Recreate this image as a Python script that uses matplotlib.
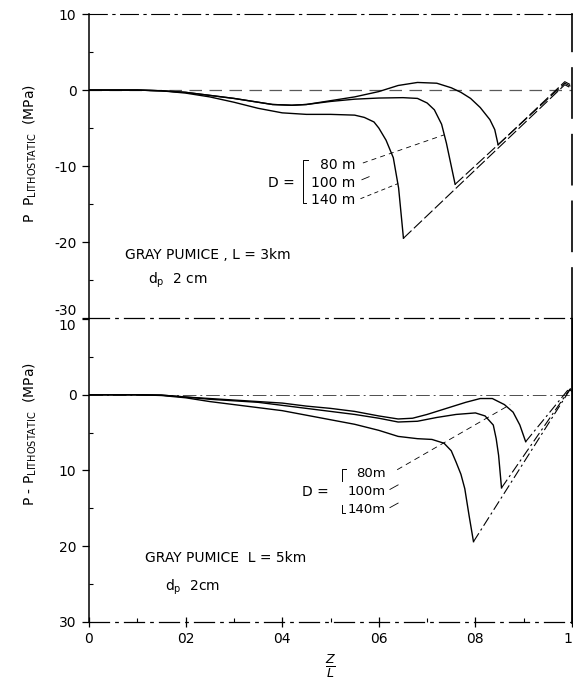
import numpy as np
import matplotlib.pyplot as plt
from matplotlib.ticker import MultipleLocator

plt.rcParams['font.family'] = ['DejaVu Sans']
plt.rcParams['mathtext.fontset'] = 'dejavusans'

### data
# upper panel: gray pumice, L = 3 km
z3_80 = [0, 0.10, 0.15, 0.20, 0.25, 0.30, 0.35, 0.38, 0.42, 0.45, 0.50, 0.55, 0.60, 0.64, 0.68,
         0.72, 0.75, 0.77, 0.79, 0.81, 0.83, 0.84, 0.847, 0.985, 1.0]
p3_80 = [0, 0, -0.1, -0.3, -0.7, -1.1, -1.6, -1.9, -2.0, -1.9, -1.4, -0.9, -0.2, 0.6, 1.0,
         0.9, 0.3, -0.3, -1.1, -2.3, -3.9, -5.2, -7.2, 1.1, 0.6]
z3_100 = [0, 0.10, 0.15, 0.20, 0.25, 0.30, 0.35, 0.38, 0.42, 0.45, 0.50, 0.55, 0.60, 0.65, 0.68,
          0.70, 0.715, 0.73, 0.74, 0.75, 0.758, 0.985, 1.0]
p3_100 = [0, 0, -0.1, -0.3, -0.7, -1.1, -1.6, -1.9, -2.0, -1.9, -1.5, -1.2, -1.05, -1.0, -1.1,
          -1.7, -2.6, -4.5, -7.0, -10.0, -12.4, 0.9, 0.4]
z3_140 = [0, 0.10, 0.15, 0.20, 0.25, 0.30, 0.35, 0.40, 0.45, 0.50, 0.55, 0.57, 0.59, 0.60,
          0.615, 0.63, 0.641, 0.651, 0.985, 1.0]
p3_140 = [0, 0, -0.1, -0.4, -0.9, -1.6, -2.4, -3.0, -3.2, -3.2, -3.3, -3.6, -4.2, -5.0,
          -6.6, -8.9, -12.9, -19.5, 0.7, 0.2]

# lower panel: gray pumice, L = 5 km
z5_80 = [0, 0.10, 0.15, 0.20, 0.25, 0.30, 0.35, 0.40, 0.45, 0.50, 0.55, 0.60, 0.64, 0.67, 0.70,
         0.74, 0.78, 0.81, 0.835, 0.86, 0.878, 0.892, 0.904, 0.995, 1.0]
p5_80 = [0, 0, -0.05, -0.3, -0.5, -0.7, -0.9, -1.1, -1.5, -1.8, -2.2, -2.8, -3.2, -3.1, -2.6,
         -1.8, -1.0, -0.5, -0.5, -1.3, -2.3, -4.0, -6.2, 0.9, 0.5]
z5_100 = [0, 0.10, 0.15, 0.20, 0.25, 0.30, 0.35, 0.40, 0.45, 0.50, 0.55, 0.60, 0.64, 0.68, 0.72,
          0.76, 0.80, 0.82, 0.837, 0.843, 0.848, 0.854, 0.995, 1.0]
p5_100 = [0, 0, -0.05, -0.3, -0.6, -0.8, -1.0, -1.4, -1.8, -2.2, -2.6, -3.1, -3.6, -3.5, -3.0,
          -2.6, -2.4, -2.8, -4.0, -5.8, -8.0, -12.3, 0.7, 0.4]
z5_140 = [0, 0.10, 0.15, 0.20, 0.25, 0.30, 0.35, 0.40, 0.45, 0.50, 0.55, 0.60, 0.64, 0.68, 0.71,
          0.735, 0.75, 0.76, 0.77, 0.778, 0.787, 0.796, 0.995, 1.0]
p5_140 = [0, 0, -0.1, -0.4, -0.9, -1.3, -1.7, -2.1, -2.7, -3.3, -3.9, -4.7, -5.5, -5.8, -5.9,
          -6.4, -7.4, -8.9, -10.5, -12.4, -16.0, -19.4, 0.6, 0.2]

d_labels_3 = ["80 m", "100 m", "140 m"]
d_labels_5 = ["80m", "100m", "140m"]

x_ticks = [0, 0.2, 0.4, 0.6, 0.8, 1.0]
x_ticklabels = ["0", "02", "04", "06", "08", "1"]
y_ticks = [10, 0, -10, -20, -30]
y_ticklabels_3 = ["10", "0", "-10", "-20", "-30"]
y_ticklabels_5 = ["10", "0", "10", "20", "30"]


def draw_curve(ax, z, p, rise_dash):
    z = np.array(z)
    p = np.array(p)
    i = int(np.argmin(p))
    ax.plot(z[:i + 1], p[:i + 1], color='black', lw=1.0, solid_joinstyle='round')
    ax.plot(z[i:], p[i:], color='black', lw=0.8, dashes=rise_dash)


def style_axes(ax, yticklabels):
    ax.set_xlim(0, 1)
    ax.set_ylim(-30, 10)
    ax.set_yticks(y_ticks)
    ax.set_yticklabels(yticklabels, fontsize=10)
    ax.yaxis.set_minor_locator(MultipleLocator(5))
    ax.tick_params(axis='y', which='major', direction='out', length=5, width=0.9, pad=4)
    ax.tick_params(axis='y', which='minor', direction='in', length=3, width=0.8)
    ax.spines['left'].set_linewidth(1.1)
    ax.set_facecolor('none')


fig = plt.figure(figsize=(5.73, 6.86), dpi=100)
ax1 = fig.add_axes([0.1553, 0.5364, 0.843, 0.4431])
ax2 = fig.add_axes([0.1553, 0.0933, 0.843, 0.4417])

### upper panel
style_axes(ax1, y_ticklabels_3)
ax1.set_xticks([])
ax1.spines['top'].set_linestyle((0, (16, 5, 2, 5)))
ax1.spines['top'].set_linewidth(0.8)
ax1.spines['bottom'].set_linestyle((0, (16, 5, 2, 5)))
ax1.spines['bottom'].set_linewidth(0.9)
ax1.spines['right'].set_linestyle((0, (30, 10)))
ax1.spines['right'].set_linewidth(1.2)
ax1.axhline(0, color='0.35', lw=0.9, dashes=(10, 6))

draw_curve(ax1, z3_80, p3_80, (10, 3))
draw_curve(ax1, z3_100, p3_100, (10, 3))
draw_curve(ax1, z3_140, p3_140, (10, 3))

ax1.text(0.075, -21.7, "GRAY PUMICE , L = 3km", fontsize=10, va='center')
ax1.text(0.122, -25.0, r"d$_{\mathrm{p}}$  2 cm", fontsize=10, va='center')
ax1.text(0.427, -12.2, "D =", fontsize=10, ha='right', va='center')
for lab, yy in zip(d_labels_3, [-9.9, -12.2, -14.5]):
    ax1.text(0.552, yy, lab, fontsize=10, ha='right', va='center')
ax1.plot([0.453, 0.443, 0.443, 0.450], [-9.2, -9.2, -14.9, -14.9], color='black', lw=0.7)
ax1.plot([0.567, 0.735], [-9.6, -5.9], color='black', lw=0.6, dashes=(6, 5))
ax1.plot([0.565, 0.58], [-11.8, -11.4], color='black', lw=0.6)
ax1.plot([0.562, 0.64], [-14.3, -12.3], color='black', lw=0.6, dashes=(5, 4))

ax1.set_ylabel(r"P  P$_{\mathrm{LITHOSTATIC}}$  (MPa)", fontsize=10)
ax1.yaxis.set_label_coords(-0.104, 0.54)
lbls = ax1.get_yticklabels()
lbls[-1].set_va('bottom')

### lower panel
style_axes(ax2, y_ticklabels_5)
ax2.spines['top'].set_visible(False)
ax2.spines['bottom'].set_linestyle((0, (16, 5, 2, 5)))
ax2.spines['bottom'].set_linewidth(0.9)
ax2.spines['right'].set_linewidth(2.0)
ax2.axhline(0, color='0.3', lw=0.7, dashes=(14, 4, 2, 4))

draw_curve(ax2, z5_80, p5_80, (9, 3, 2, 3))
draw_curve(ax2, z5_100, p5_100, (9, 3, 2, 3))
draw_curve(ax2, z5_140, p5_140, (9, 3, 2, 3))

ax2.text(0.116, -21.6, "GRAY PUMICE  L = 5km", fontsize=10, va='center')
ax2.text(0.157, -25.4, r"d$_{\mathrm{p}}$  2cm", fontsize=10, va='center')
ax2.text(0.497, -12.8, "D =", fontsize=10, ha='right', va='center')
for lab, yy in zip(d_labels_5, [-10.4, -12.8, -15.2]):
    ax2.text(0.614, yy, lab, fontsize=9.5, ha='right', va='center')
ax2.plot([0.533, 0.523, 0.523], [-9.8, -9.8, -11.4], color='black', lw=0.7)
ax2.plot([0.523, 0.523, 0.531], [-14.6, -15.6, -15.6], color='black', lw=0.7)
ax2.plot([0.638, 0.872], [-9.9, -1.3], color='black', lw=0.6, dashes=(7, 5))
ax2.plot([0.623, 0.640], [-12.5, -11.9], color='black', lw=0.6)
ax2.plot([0.623, 0.640], [-14.9, -14.3], color='black', lw=0.6)

ax2.set_xticks(x_ticks)
ax2.set_xticklabels(x_ticklabels, fontsize=10)
ax2.get_xticklabels()[-1].set_ha('right')
ax2.xaxis.set_minor_locator(MultipleLocator(0.1))
ax2.tick_params(axis='x', which='major', direction='inout', length=7, width=0.9, pad=4)
ax2.tick_params(axis='x', which='minor', direction='in', length=3, width=0.8)
ax2.set_xlabel(r"$\frac{Z}{L}$", fontsize=13, labelpad=4)

ax2.set_ylabel(r"P - P$_{\mathrm{LITHOSTATIC}}$  (MPa)", fontsize=10)
ax2.yaxis.set_label_coords(-0.104, 0.62)
lbls = ax2.get_yticklabels()
lbls[0].set_va('top')

fig.savefig("out.png", dpi=100)
